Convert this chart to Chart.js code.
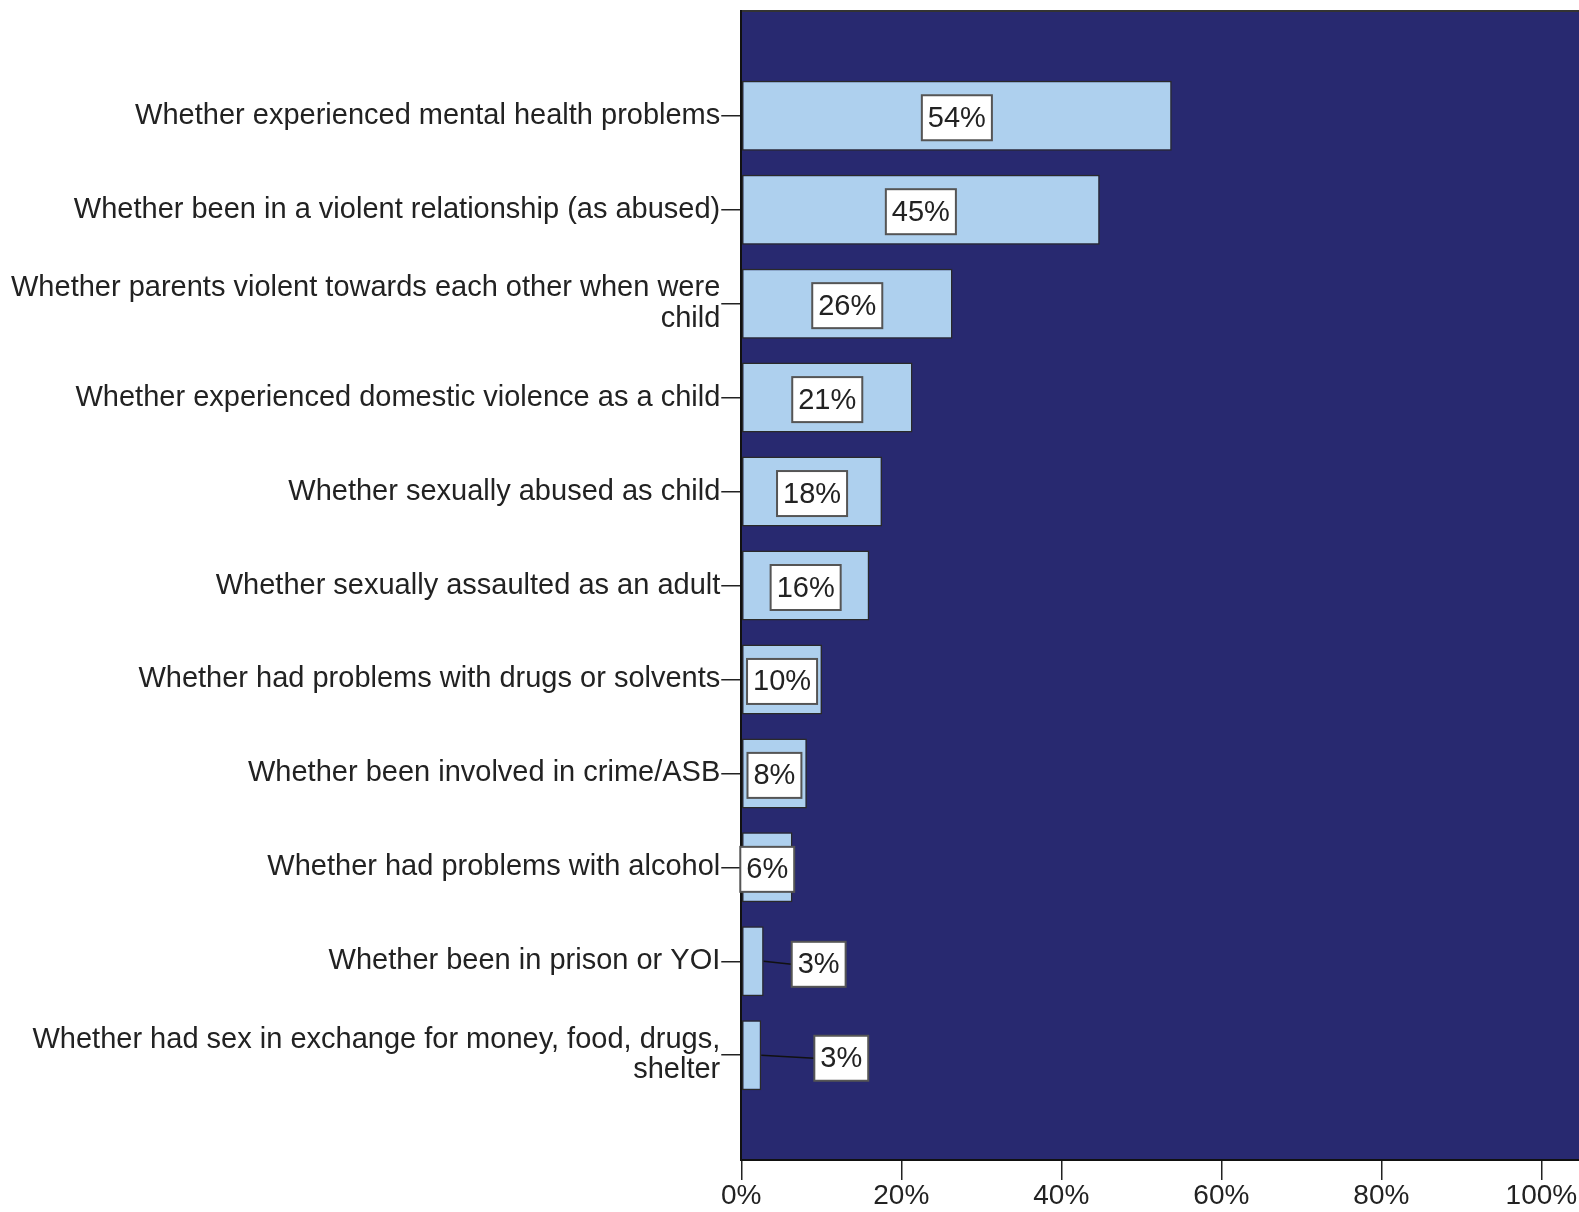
<!DOCTYPE html>
<html>
<head>
<meta charset="utf-8">
<script src="https://cdn.jsdelivr.net/npm/chart.js@4/dist/chart.umd.min.js"></script>
<style>
  html, body { margin: 0; padding: 0; background: #fff; }
  #wrap { width: 1579px; height: 1212px; }
</style>
</head>
<body>
<div id="wrap"><canvas id="expChart"></canvas></div>
<script>
const categories = [
    'Whether experienced mental health problems',
    'Whether been in a violent relationship (as abused)',
    ['Whether parents violent towards each other when were', 'child'],
    'Whether experienced domestic violence as a child',
    'Whether sexually abused as child',
    'Whether sexually assaulted as an adult',
    'Whether had problems with drugs or solvents',
    'Whether been involved in crime/ASB',
    'Whether had problems with alcohol',
    'Whether been in prison or YOI',
    ['Whether had sex in exchange for money, food, drugs,', 'shelter']
];
const percents = [53.8, 44.8, 26.4, 21.4, 17.6, 16.0, 10.1, 8.2, 6.4, 2.8, 2.5];
const xTicks = [0, 20, 40, 60, 80, 100];

const NAVY = '#282970';
const FAMILY = '"Liberation Sans", Arial, sans-serif';

// fond bleu marine de la zone de tracé + trait du haut
const plotBg = {
    id: 'plotBg',
    beforeDraw(chart) {
        const a = chart.chartArea, c = chart.ctx;
        c.save();
        c.fillStyle = NAVY;
        c.fillRect(a.left, a.top, a.right - a.left, a.bottom - a.top);
        c.strokeStyle = '#333';
        c.lineWidth = 2;
        c.beginPath();
        c.moveTo(a.left, a.top);
        c.lineTo(a.right, a.top);
        c.stroke();
        c.restore();
    }
};

// étiquettes blanches encadrées, déplacées à droite si la barre est trop courte
const boxLabels = {
    id: 'boxLabels',
    afterDatasetsDraw(chart) {
        const c = chart.ctx;
        const meta = chart.getDatasetMeta(0);
        c.save();
        c.font = '29px ' + FAMILY;
        c.textAlign = 'center';
        c.textBaseline = 'middle';
        let outside = 0;
        meta.data.forEach((bar, i) => {
            const txt = Math.round(percents[i]) + '%';
            const w = c.measureText(txt).width + 12;
            const h = 45;
            let cx = (bar.x + bar.base) / 2;
            let cy = bar.y + 2;
            if (bar.x - bar.base < w * 0.9) {
                cx = bar.x + 55 + outside * 25;
                cy = bar.y + 3;
                outside++;
                c.strokeStyle = '#111';
                c.lineWidth = 1.5;
                c.beginPath();
                c.moveTo(bar.x, bar.y);
                c.lineTo(cx - w / 2, cy);
                c.stroke();
            }
            c.fillStyle = '#fff';
            c.fillRect(cx - w / 2, cy - h / 2, w, h);
            c.strokeStyle = '#555';
            c.lineWidth = 2;
            c.strokeRect(cx - w / 2, cy - h / 2, w, h);
            c.fillStyle = '#222';
            c.fillText(txt, cx, cy + 1);
        });
        c.restore();
    }
};

const ctx = document.getElementById('expChart').getContext('2d');
const expChart = new Chart(ctx, {
    type: 'bar',
    data: {
        datasets: [{
            data: percents.map((v, i) => ({ x: v, y: i })),
            backgroundColor: '#aed0ee',
            borderColor: '#2a2a2a',
            borderWidth: 1.5,
            borderSkipped: false,
            categoryPercentage: 1,
            barPercentage: 0.745
        }]
    },
    options: {
        indexAxis: 'y',
        responsive: true,
        maintainAspectRatio: false,
        animation: false,
        layout: { padding: { top: 11, left: 10, right: 0, bottom: 0 } },
        plugins: {
            legend: { display: false },
            tooltip: { enabled: false }
        },
        scales: {
            x: {
                type: 'linear',
                min: 0,
                max: 104.7,
                afterBuildTicks: (s) => { s.ticks = xTicks.map(v => ({ value: v })); },
                afterFit: (s) => { s.paddingLeft = 0; s.paddingRight = 0; },
                ticks: {
                    font: { family: FAMILY, size: 28, lineHeight: 1 },
                    color: '#222',
                    padding: 2,
                    maxRotation: 0,
                    callback: (v) => v + '%'
                },
                grid: { drawOnChartArea: false, drawTicks: true, tickLength: 20, color: '#222', lineWidth: 1.5 },
                border: { display: true, color: '#111', width: 2 }
            },
            y: {
                type: 'linear',
                reverse: true,
                offset: false,
                min: -1.115,
                max: 11.115,
                afterBuildTicks: (s) => { s.ticks = categories.map((_, i) => ({ value: i })); },
                afterFit: (s) => { s.paddingTop = 0; s.paddingBottom = 0; },
                ticks: {
                    font: { family: FAMILY, size: 29, lineHeight: 1.05 },
                    color: '#222',
                    padding: 1,
                    autoSkip: false,
                    callback: (v) => categories[v]
                },
                grid: { offset: false, drawOnChartArea: false, drawTicks: true, tickLength: 20, color: '#222', lineWidth: 1.5 },
                border: { display: true, color: '#111', width: 2 }
            }
        }
    },
    plugins: [plotBg, boxLabels]
});
</script>
</body>
</html>
